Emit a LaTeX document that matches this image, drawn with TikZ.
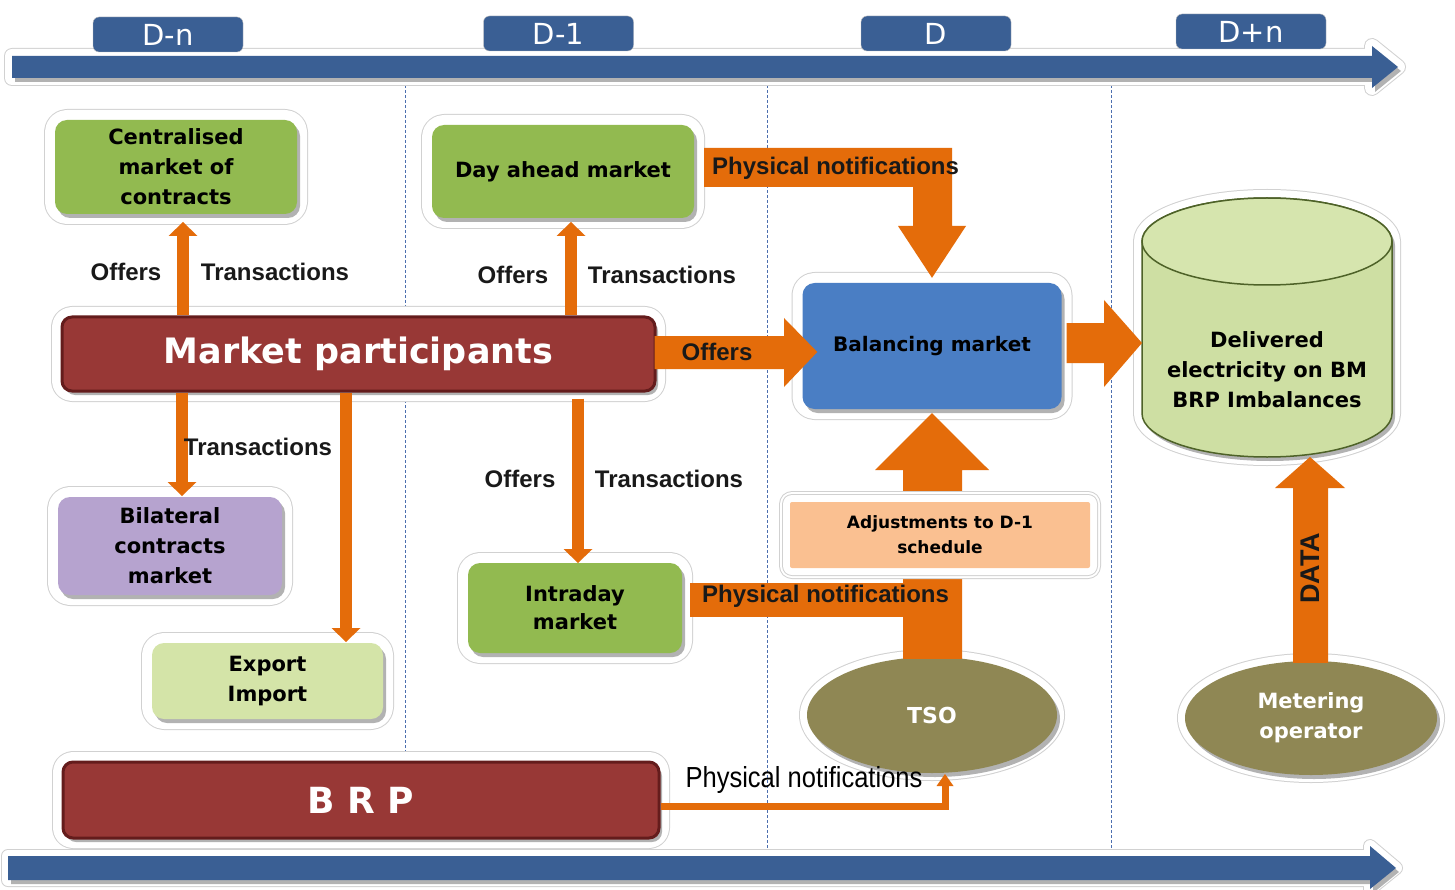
\documentclass[tikz,border=0pt]{standalone}
\usepackage{fontspec}
\setmainfont{DejaVu Sans}
\newfontfamily\libfont{Liberation Sans}
\newfontfamily\libnarrow{Liberation Sans}[FakeStretch=0.88]
\usetikzlibrary{arrows.meta,shadows,shapes.geometric,calc}
\definecolor{tlblue}{RGB}{58,95,148}
\definecolor{orng}{RGB}{228,108,10}
\definecolor{grn}{RGB}{146,186,80}
\definecolor{redb}{RGB}{152,56,54}
\definecolor{redd}{RGB}{100,28,28}
\definecolor{blu}{RGB}{74,126,196}
\definecolor{lav}{RGB}{182,163,207}
\definecolor{lgrn}{RGB}{212,228,168}
\definecolor{peach}{RGB}{250,192,145}
\definecolor{olive}{RGB}{143,135,84}
\definecolor{cylg}{RGB}{206,223,163}
\definecolor{cylt}{RGB}{214,229,174}
\definecolor{cyld}{RGB}{78,98,40}
\definecolor{dashc}{RGB}{75,110,175}
\newcommand\myboxfont{\fontsize{21}{30}\selectfont\bfseries}
\newcommand\mylblfont{\libfont\bfseries\fontsize{24}{26}\selectfont}
\newcommand\mytlfont{\fontsize{29}{30}\selectfont}
\begin{document}
\begin{tikzpicture}[x=1pt,y=-1pt,
  halo/.style={preaction={draw=black!18,line width=#1+2pt,line join=round},preaction={draw=white,line width=#1,line join=round}},
  halo/.default=20pt,
  shad/.style={drop shadow={shadow xshift=3pt,shadow yshift=-4pt,fill=black,opacity=0.3}},
  box/.style={rounded corners=12pt,halo,shad,inner sep=2pt,align=center,font=\myboxfont,text=black},
  redbox/.style={rounded corners=10pt,halo,shad,fill=redb,draw=redd,line width=3pt,text=white,inner sep=0pt,font=\bfseries\fontsize{35}{40}\selectfont},
  oval/.style={ellipse,halo=14pt,shad,fill=olive,inner sep=0pt,align=center,text=white,font=\myboxfont},
  tl/.style={fill=tlblue,draw=black!25,rounded corners=6pt,text=white,font=\mytlfont,minimum width=150pt,minimum height=35pt,inner sep=0pt},
  lbl/.style={font=\mylblfont,inner sep=0pt,text=black!90},
  thinarr/.style={draw=orng,line width=12pt,-{Triangle[width=29pt,length=14pt,line width=0pt]}},
  dashline/.style={draw=dashc,line width=1pt,dash pattern=on 3pt off 2pt}
]
\useasboundingbox (0,0) rectangle (1455,890);
\fill[white] (0,0) rectangle (1455,890);

% dashed separators
\draw[dashline] (405,80) -- (405,852);
\draw[dashline] (767,80) -- (767,852);
\draw[dashline] (1111,80) -- (1111,852);

% timelines
\fill[tlblue,halo=14pt,shad] (12,56) -- (1372,56) -- (1372,46) -- (1398,67) -- (1372,88) -- (1372,78) -- (12,78) -- cycle;
\fill[tlblue,halo=12pt,shad] (8,856) -- (1370,856) -- (1370,846) -- (1396,868) -- (1370,889) -- (1370,880) -- (8,880) -- cycle;
\node[tl] (tdn) at (168,34.5) {D-n};
\node[tl] (td1) at (558.5,33.5) {D-1};
\node[tl] (td) at (936,33.5) {D};
\node[tl] (tdp) at (1251,31.5) {D+n};

% boxes
\node[box,fill=grn,minimum width=242pt,minimum height=94pt] (cmc) at (176,167) {Centralised\\market of\\contracts};
\node[box,fill=grn,minimum width=262pt,minimum height=93pt] (dam) at (563,171.5) {Day ahead market};
\node[redbox,minimum width=593pt,minimum height=74pt,text depth=8pt] (mp) at (358.5,354) {Market participants};
\node[box,fill=blu,minimum width=259pt,minimum height=126pt,font=\bfseries\fontsize{20}{24}\selectfont] (bm) at (932,346) {Balancing market};
\node[box,fill=lav,minimum width=224pt,minimum height=98pt] (bcm) at (170,546) {Bilateral\\contracts\\market};
\node[box,fill=lgrn,minimum width=231pt,minimum height=76pt] (ei) at (267.5,681) {Export\\Import};
\node[box,fill=grn,minimum width=214pt,minimum height=90pt,font=\bfseries\fontsize{21}{28}\selectfont] (idm) at (575,608) {Intraday\\market};
\node[redbox,minimum width=596pt,minimum height=76pt,font=\bfseries\fontsize{36}{40}\selectfont] (brp) at (361,800) {B R P};

% cylinder
\fill[cylg,draw=cyld,line width=1.5pt,halo=16pt,shad] (1142,241.5) -- (1142,413.5) arc[start angle=180,end angle=0,x radius=125,y radius=43.5] -- (1392,241.5) arc[start angle=0,end angle=-180,x radius=125,y radius=43.5] -- cycle;
\fill[cylt,draw=cyld,line width=1.5pt] (1267,241.5) ellipse [x radius=125,y radius=43.5];
\node[font=\myboxfont,align=center,inner sep=0pt] (cyl) at (1267,370) {Delivered\\electricity on BM\\BRP Imbalances};
\coordinate (cylw) at (1142,343);
\coordinate (cylb) at (1310,457);

% ellipses
\node[oval,minimum width=250pt,minimum height=116pt,font=\bfseries\fontsize{22}{26}\selectfont] (tso) at (932,715) {TSO};
\node[oval,minimum width=252pt,minimum height=114pt,font=\bfseries\fontsize{21}{30}\selectfont] (mo) at (1311,718) {Metering\\operator};

% thin arrows
\coordinate (t1) at (183,222);
\coordinate (t2) at (571,222);
\coordinate (t3) at (182,496);
\coordinate (t4) at (346,642);
\coordinate (t5) at (578,563);
\draw[thinarr] (mp.north -| t1) -- (t1);
\draw[thinarr] (mp.north -| t2) -- (t2);
\draw[thinarr] (mp.south -| t3) -- (t3);
\draw[thinarr] (mp.south -| t4) -- (t4);
\draw[thinarr] ($(mp.south -| t5)+(0,6)$) -- (t5);

% block arrows
\fill[orng] ($(mp.east)+(-2,-18)$) -- (784,336) -- (784,318) -- ($(bm.west)+(15,6)$) -- (784,387) -- (784,369) -- ($(mp.east)+(-2,15)$) -- cycle;
\fill[orng] ($(dam.east)+(10,-23.5)$) -- (952,148) -- (952,226) -- (966,226) -- ($(bm.north)+(0,-5)$) -- (898,226) -- (913,226) -- (913,187) -- ($(dam.east)+(10,15.5)$) -- cycle;
\fill[orng] ($(bm.east)+(5,-23)$) -- (1104,323) -- (1104,300) -- (cylw) -- (1104,387) -- (1104,363) -- ($(bm.east)+(5,17)$) -- cycle;
\fill[orng] ($(idm.east)+(8,-25)$) -- (905,583) -- (905,617) -- ($(idm.east)+(8,9)$) -- cycle;
\fill[orng] ($(tso.north)+(-29,2)$) -- (903,470) -- (875,470) -- ($(bm.south)+(0,4)$) -- (989,470) -- (962,470) -- ($(tso.north)+(30,2)$) -- cycle;
\fill[orng] ($(mo.north)+(-18,2)$) -- (1293,488) -- (1275,488) -- (cylb) -- (1345,488) -- (1328,488) -- ($(mo.north)+(17,2)$) -- cycle;
\coordinate (t6) at (945,774);
\draw[draw=orng,line width=7pt,line join=miter,-{Triangle[width=17pt,length=12pt,line width=0pt]}] ($(brp.east)+(0,6)$) -| (t6);

% adjustments box
\node[box,rounded corners=2pt,halo=14pt,fill=peach,minimum width=300pt,minimum height=66pt,font=\bfseries\fontsize{17}{25}\selectfont] (adj) at (940,535) {Adjustments to D-1\\schedule};

% labels
\node[lbl] (l1) at (126,272) {Offers};
\node[lbl] (l2) at (275,272) {Transactions};
\node[lbl] (l3) at (513,275) {Offers};
\node[lbl] (l4) at (662,275) {Transactions};
\node[lbl] (l5) at (258,447) {Transactions};
\node[lbl] (l6) at (520,479) {Offers};
\node[lbl] (l7) at (669,479) {Transactions};
\node[lbl] (l8) at (717,352) {Offers};
\node[lbl,anchor=west] (l9) at (712,168) {Physical notifications};
\node[lbl,anchor=west] (l10) at (702,596) {Physical notifications};
\node[inner sep=0pt,text=black,font=\libnarrow\fontsize{29}{30}\selectfont] (l11) at (804,780) {Physical notifications};
\node[lbl,rotate=90,font=\libfont\bfseries\fontsize{27}{30}\selectfont] (l12) at (1310,568) {DATA};
\end{tikzpicture}
\end{document}
